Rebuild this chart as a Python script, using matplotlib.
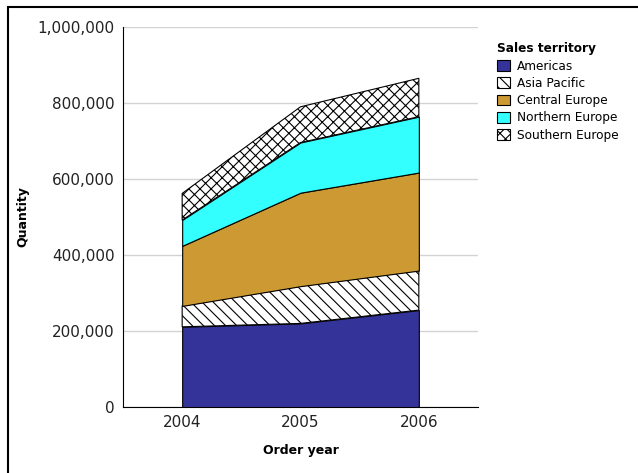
import matplotlib
matplotlib.use("Agg")
import matplotlib.pyplot as plt
from matplotlib.patches import Patch, Rectangle
from matplotlib.ticker import FuncFormatter
import numpy as np

years = [2004, 2005, 2006]
territories = ["Americas", "Asia Pacific", "Central Europe", "Northern Europe", "Southern Europe"]
americas = [211000, 220000, 255000]
asia_pacific = [55000, 98000, 104000]
central_europe = [158000, 246000, 258000]
northern_europe = [68000, 132000, 147000]
southern_europe = [70000, 94000, 101000]

colors = ["#333399", "white", "#CC9933", "#33FFFF", "white"]
hatches = [None, "\\\\\\", None, None, "xxx"]

plt.rcParams["hatch.linewidth"] = 0.8
fig = plt.figure(figsize=(6.38, 4.73), dpi=100)
W, H = 638, 473
ax = fig.add_axes([123 / W, 1 - 407 / H, (478 - 123) / W, (407 - 27) / H])

series = [americas, asia_pacific, central_europe, northern_europe, southern_europe]
polys = ax.stackplot(years, *series, colors=colors, edgecolor="black", linewidth=0.8, zorder=3)
for p, h in zip(polys, hatches):
    if h:
        p.set_hatch(h)

ax.set_xlim(2003.5, 2006.5)
ax.set_ylim(0, 1000000)
ax.set_xticks(years)
ax.set_yticks(np.arange(0, 1000001, 200000))
ax.yaxis.set_major_formatter(FuncFormatter(lambda v, p: f"{int(v):,}"))
ax.grid(axis="y", color="#d3d3d3", linewidth=1, zorder=0)
ax.set_axisbelow(True)
for s in ["top", "right"]:
    ax.spines[s].set_visible(False)
ax.spines["left"].set_color("black")
ax.spines["bottom"].set_color("black")
ax.tick_params(axis="both", length=0, labelsize=11, colors="#222222", pad=6)
ax.set_xlabel("Order year", fontsize=9, fontweight="bold", labelpad=10)
ax.set_ylabel("Quantity", fontsize=9, fontweight="bold", labelpad=6)

handles = [Patch(facecolor=c, edgecolor="black", hatch=h, linewidth=0.8) for c, h in zip(colors, hatches)]
leg = fig.legend(handles, territories, loc="upper left", bbox_to_anchor=(489 / W, 1 - 34 / H),
                 frameon=False, fontsize=8.7, title="Sales territory",
                 title_fontproperties={"weight": "bold", "size": 8.7},
                 handlelength=1.0, handleheight=1.0, handletextpad=0.6, labelspacing=0.35,
                 borderpad=0.2, alignment="left")

fig.add_artist(Rectangle((8 / W, -0.1), 1.2, (1 - 7 / H) + 0.1, transform=fig.transFigure,
                         fill=False, edgecolor="black", linewidth=1.5))

fig.savefig("out.png", dpi=100)
